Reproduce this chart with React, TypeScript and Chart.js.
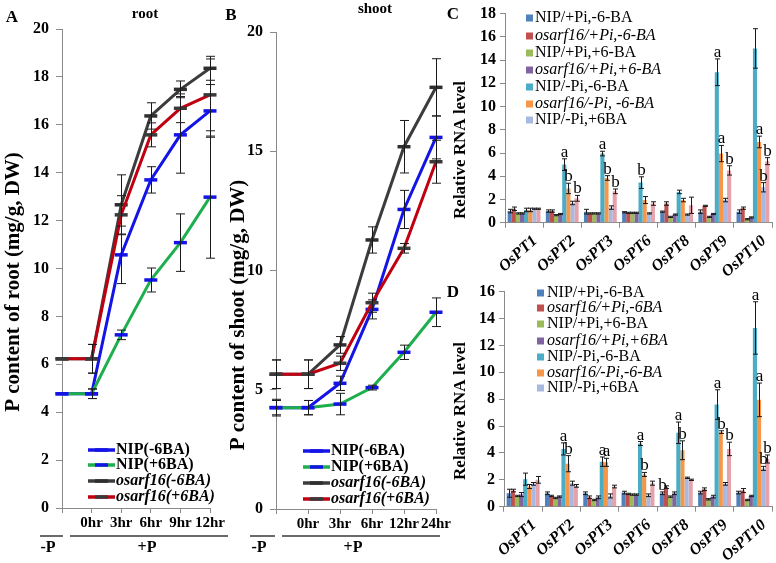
import React, { useEffect, useRef } from "react";
import { Chart, registerables } from "chart.js";

Chart.register(...registerables);

const SERIF = '"Liberation Serif", "Times New Roman", Times, serif';
const W = 776;
const H = 563;
const AXIS = "#8a8a8a";

// ===== Panel A : P content of root =====
const A_TIMES = ["", "0hr", "3hr", "6hr", "9hr", "12hr"];
const A_Y_TICKS = [0, 2, 4, 6, 8, 10, 12, 14, 16, 18, 20];
const A_NIP_M6BA = [4.77, 4.77, 10.57, 13.7, 15.58, 16.58];
const A_NIP_P6BA = [4.77, 4.77, 7.23, 9.52, 11.08, 12.98];
const A_ARF_M6BA = [6.23, 6.23, 12.66, 16.37, 17.48, 18.36];
const A_ARF_P6BA = [6.23, 6.23, 12.24, 15.58, 16.69, 17.25];
const A_NIP_M6BA_ERR = [0, 0.2, 1.2, 0.55, 1.6, 1.1];
const A_NIP_P6BA_ERR = [0, 0.2, 0.2, 0.5, 1.2, 2.55];
const A_ARF_M6BA_ERR = [0, 0.6, 1.25, 0.55, 0.35, 0.5];
const A_ARF_P6BA_ERR = [0, 0.6, 0.8, 0.5, 0.6, 1.5];

// ===== Panel B : P content of shoot =====
const B_TIMES = ["", "0hr", "3hr", "6hr", "12hr", "24hr"];
const B_Y_TICKS = [0, 5, 10, 15, 20];
const B_NIP_M6BA = [4.25, 4.25, 5.27, 8.37, 12.56, 15.58];
const B_NIP_P6BA = [4.25, 4.25, 4.4, 5.09, 6.57, 8.25];
const B_ARF_M6BA = [5.65, 5.65, 6.88, 11.28, 15.19, 17.68];
const B_ARF_P6BA = [5.65, 5.65, 6.11, 8.65, 10.93, 14.56];
const B_NIP_M6BA_ERR = [0.35, 0.3, 0.3, 0.4, 0.8, 0.9];
const B_NIP_P6BA_ERR = [0.3, 0.3, 0.45, 0.1, 0.3, 0.6];
const B_ARF_M6BA_ERR = [0.6, 0.6, 0.35, 0.55, 1.1, 1.2];
const B_ARF_P6BA_ERR = [0.6, 0.6, 0.3, 0.4, 0.2, 0.9];

const LINE_NAMES = ["NIP(-6BA)", "NIP(+6BA)", "osarf16(-6BA)", "osarf16(+6BA)"];
const LINE_ITALIC = [false, false, true, true];
const LINE_COLORS = ["#1414e6", "#1daf4e", "#3c3c3c", "#c00010"];
const MARKER_COLORS = ["#1414e6", "#1414e6", "#2e2e2e", "#3a3a3a"];
const LINE_ORDER = [2, 0, 3, 1];

// ===== Panels C / D : relative RNA level =====
const GENES = ["OsPT1", "OsPT2", "OsPT3", "OsPT6", "OsPT8", "OsPT9", "OsPT10"];
const C_Y_TICKS = [0, 2, 4, 6, 8, 10, 12, 14, 16, 18];
const D_Y_TICKS = [0, 2, 4, 6, 8, 10, 12, 14, 16];
const BAR_COLORS = ["#4f81bd", "#c0504d", "#9bbb59", "#8064a2", "#4bacc6", "#f79646", "#a7b9e0", "#e5a2aa"];

const C_LEGEND = ["NIP/+Pi,-6-BA", "osarf16/+Pi,-6-BA", "NIP/+Pi,+6-BA", "osarf16/+Pi,+6-BA", "NIP/-Pi,-6-BA", "osarf16/-Pi, -6-BA", "NIP/-Pi,+6BA"];
const D_LEGEND = ["NIP/+Pi,-6-BA", "osarf16/+Pi,-6BA", "NIP/+Pi,+6-BA", "osarf16/+Pi,+6BA", "NIP/-Pi,-6-BA", "osarf16/-Pi,-6-BA", "NIP/-Pi,+6BA"];
const LEGEND_ITALIC = [false, true, false, true, false, true, false];

const C_NIP_PPI_M6BA = [1.0, 1.0, 0.95, 0.9, 0.95, 0.95, 0.95];
const C_ARF_PPI_M6BA = [1.2, 1.0, 0.8, 0.85, 1.65, 1.45, 1.25];
const C_NIP_PPI_P6BA = [0.8, 0.65, 0.8, 0.85, 0.5, 0.5, 0.3];
const C_ARF_PPI_P6BA = [0.8, 0.75, 0.8, 0.85, 0.7, 0.75, 0.45];
const C_NIP_MPI_M6BA = [1.1, 5.0, 5.95, 3.45, 2.65, 12.95, 15.0];
const C_ARF_MPI_M6BA = [1.1, 2.95, 3.85, 1.95, 1.95, 5.95, 6.95];
const C_NIP_MPI_P6BA = [1.2, 1.7, 1.3, 0.8, 0.7, 1.95, 3.05];
const C_ARF_MPI_P6BA = [1.2, 2.1, 2.7, 1.65, 1.5, 4.5, 5.3];
const C_NIP_PPI_M6BA_ERR = [0.15, 0.1, 0.2, 0.05, 0.05, 0.15, 0.15];
const C_ARF_PPI_M6BA_ERR = [0.15, 0.1, 0.05, 0.05, 0.15, 0.05, 0.1];
const C_NIP_PPI_P6BA_ERR = [0.05, 0.05, 0.05, 0.05, 0.05, 0.05, 0.05];
const C_ARF_PPI_P6BA_ERR = [0.05, 0.05, 0.05, 0.05, 0.05, 0.05, 0.05];
const C_NIP_MPI_M6BA_ERR = [0.15, 0.5, 0.2, 0.5, 0.15, 1.15, 1.7];
const C_ARF_MPI_M6BA_ERR = [0.15, 0.45, 0.2, 0.3, 0.15, 0.7, 0.5];
const C_NIP_MPI_P6BA_ERR = [0.05, 0.15, 0.15, 0.05, 0.05, 0.15, 0.4];
const C_ARF_MPI_P6BA_ERR = [0.05, 0.25, 0.2, 0.15, 0.7, 0.4, 0.3];
const C_NIP_MPI_M6BA_SIG = ["", "a", "a", "b", "", "a", ""];
const C_ARF_MPI_M6BA_SIG = ["", "b", "b", "", "", "a", "a"];
const C_NIP_MPI_P6BA_SIG = ["", "", "", "", "", "", "b"];
const C_ARF_MPI_P6BA_SIG = ["", "b", "b", "", "", "b", "b"];

const D_NIP_PPI_M6BA = [1.0, 1.0, 1.0, 1.05, 1.0, 1.05, 1.05];
const D_ARF_PPI_M6BA = [1.2, 0.8, 0.7, 0.95, 1.45, 1.3, 1.2];
const D_NIP_PPI_P6BA = [0.8, 0.65, 0.5, 0.9, 0.75, 0.55, 0.5];
const D_ARF_PPI_P6BA = [0.9, 0.75, 0.7, 0.9, 1.0, 0.75, 0.8];
const D_NIP_MPI_M6BA = [2.05, 4.3, 3.35, 4.7, 5.5, 7.6, 13.3];
const D_ARF_MPI_M6BA = [1.5, 3.2, 3.3, 2.4, 4.2, 5.55, 7.95];
const D_NIP_MPI_P6BA = [1.7, 1.75, 0.8, 0.85, 2.15, 1.7, 2.85];
const D_ARF_MPI_P6BA = [2.0, 1.55, 1.5, 1.75, 2.0, 4.3, 3.55];
const D_NIP_PPI_M6BA_ERR = [0.3, 0.1, 0.1, 0.1, 0.1, 0.1, 0.1];
const D_ARF_PPI_M6BA_ERR = [0.1, 0.05, 0.1, 0.05, 0.1, 0.1, 0.15];
const D_NIP_PPI_P6BA_ERR = [0.05, 0.05, 0.05, 0.05, 0.05, 0.05, 0.05];
const D_ARF_PPI_P6BA_ERR = [0.15, 0.05, 0.1, 0.05, 0.1, 0.1, 0.05];
const D_NIP_MPI_M6BA_ERR = [0.45, 0.45, 0.35, 0.15, 0.8, 1.1, 1.95];
const D_ARF_MPI_M6BA_ERR = [0.15, 0.6, 0.3, 0.15, 0.7, 0.1, 1.25];
const D_NIP_MPI_P6BA_ERR = [0.1, 0.15, 0.15, 0.1, 0.05, 0.1, 0.15];
const D_ARF_MPI_P6BA_ERR = [0.25, 0.1, 0.1, 0.15, 0.05, 0.5, 0.3];
const D_NIP_PPI_M6BA_SIG = ["", "", "", "", "b", "", ""];
const D_NIP_MPI_M6BA_SIG = ["", "a", "a", "a", "a", "a", "a"];
const D_ARF_MPI_M6BA_SIG = ["", "b", "a", "b", "b", "b", "a"];
const D_NIP_MPI_P6BA_SIG = ["", "", "", "", "", "", "b"];
const D_ARF_MPI_P6BA_SIG = ["", "", "", "", "", "b", "b"];

// ---------- drawing helpers ----------
function txt(ctx: CanvasRenderingContext2D, s: string, x: number, y: number, font: string, align: CanvasTextAlign = "center") {
  ctx.save();
  ctx.font = font;
  ctx.fillStyle = "#000";
  ctx.textAlign = align;
  ctx.textBaseline = "middle";
  ctx.fillText(s, x, y);
  ctx.restore();
}
function vtxt(ctx: CanvasRenderingContext2D, s: string, x: number, y: number, font: string) {
  ctx.save();
  ctx.translate(x, y);
  ctx.rotate(-Math.PI / 2);
  ctx.font = font;
  ctx.fillStyle = "#000";
  ctx.textAlign = "center";
  ctx.textBaseline = "middle";
  ctx.fillText(s, 0, 0);
  ctx.restore();
}
function seg(ctx: CanvasRenderingContext2D, x1: number, y1: number, x2: number, y2: number, color: string, w: number) {
  ctx.save();
  ctx.strokeStyle = color;
  ctx.lineWidth = w;
  ctx.beginPath();
  ctx.moveTo(x1, y1);
  ctx.lineTo(x2, y2);
  ctx.stroke();
  ctx.restore();
}
function lineLegend(ctx: CanvasRenderingContext2D, x0: number, x1: number, tx: number, ys: number[]) {
  LINE_NAMES.forEach((name, i) => {
    const y = ys[i];
    seg(ctx, x0, y, x1, y, LINE_COLORS[i], 3.5);
    const m = (x0 + x1) / 2;
    seg(ctx, m - 6.5, y, m + 6.5, y, MARKER_COLORS[i], 3.5);
    txt(ctx, name, tx, y, `${LINE_ITALIC[i] ? "italic " : ""}bold 16px ${SERIF}`, "left");
  });
}
function barLegend(ctx: CanvasRenderingContext2D, sx: number, tx: number, ys: number[], names: string[]) {
  names.forEach((name, i) => {
    ctx.save();
    ctx.fillStyle = BAR_COLORS[i];
    ctx.fillRect(sx, ys[i] - 3.5, 7, 7);
    ctx.restore();
    txt(ctx, name, tx, ys[i], `${LEGEND_ITALIC[i] ? "italic " : ""}16px ${SERIF}`, "left");
  });
}

const errBarPlugin = {
  id: "errbars",
  afterDatasetsDraw(chart: any, _args: any, opts: any) {
    const ctx: CanvasRenderingContext2D = chart.ctx;
    const ys = chart.scales.y;
    const cap = opts.cap || 4;
    ctx.save();
    chart.data.datasets.forEach((ds: any, di: number) => {
      const meta = chart.getDatasetMeta(di);
      if (!ds.errors) return;
      meta.data.forEach((el: any, i: number) => {
        const v = ds.data[i];
        const e = ds.errors[i] || 0;
        const x = Math.round(el.x) + 0.5;
        const yTop = ys.getPixelForValue(v + e);
        if (e > 0) {
          const yBot = ys.getPixelForValue(v - e);
          ctx.strokeStyle = "#1a1a1a";
          ctx.lineWidth = 1;
          ctx.beginPath();
          ctx.moveTo(x, yTop);
          ctx.lineTo(x, yBot);
          ctx.moveTo(x - cap, yTop);
          ctx.lineTo(x + cap, yTop);
          ctx.moveTo(x - cap, yBot);
          ctx.lineTo(x + cap, yBot);
          ctx.stroke();
        }
        if (ds.letters && ds.letters[i]) {
          ctx.font = `17px ${SERIF}`;
          ctx.fillStyle = "#000";
          ctx.textAlign = "center";
          ctx.textBaseline = "alphabetic";
          ctx.fillText(ds.letters[i], x, yTop - 2);
        }
      });
    });
    ctx.restore();
  },
};

type Area = { l: number; t: number; r: number; b: number };

function axisStyle() {
  return {
    grid: { drawOnChartArea: false, tickLength: 6, color: AXIS, lineWidth: 1 },
    border: { color: AXIS, width: 1 },
  };
}

function lineConfig(labels: string[], series: number[][], errs: number[][], yTicks: number[], area: Area, annot: (ctx: CanvasRenderingContext2D) => void) {
  const YW = 40;
  const XH = 30;
  return {
    type: "line" as const,
    data: {
      labels,
      datasets: series.map((d, i) => ({
        label: LINE_NAMES[i],
        data: d,
        errors: errs[i],
        borderColor: LINE_COLORS[i],
        backgroundColor: LINE_COLORS[i],
        borderWidth: 3,
        pointStyle: "line",
        pointRadius: 6.5,
        pointBorderWidth: 3.5,
        pointBorderColor: MARKER_COLORS[i],
        pointBackgroundColor: MARKER_COLORS[i],
        tension: 0,
        order: LINE_ORDER[i],
        clip: false,
      })),
    },
    options: {
      responsive: false,
      animation: false,
      events: [],
      layout: { padding: { left: area.l - YW, top: area.t, right: W - area.r, bottom: H - area.b - XH } },
      scales: {
        x: {
          offset: false,
          ...axisStyle(),
          grid: { drawOnChartArea: false, tickLength: 5, color: AXIS, lineWidth: 1 },
          ticks: { autoSkip: false, maxRotation: 0, padding: 1, color: "#000", font: { family: SERIF, size: 15, weight: "bold" } },
          afterFit: (s: any) => { s.height = XH; },
        },
        y: {
          min: yTicks[0],
          max: yTicks[yTicks.length - 1],
          ...axisStyle(),
          afterBuildTicks: (s: any) => { s.ticks = yTicks.map((v) => ({ value: v })); },
          ticks: { padding: 7, color: "#000", font: { family: SERIF, size: 16, weight: "bold" } },
          afterFit: (s: any) => { s.width = YW; },
        },
      },
      plugins: { legend: { display: false }, tooltip: { enabled: false }, errbars: { cap: 4.5 } },
    },
    plugins: [errBarPlugin, { id: "annot", afterDraw: (c: any) => annot(c.ctx) }],
  };
}

function barConfig(vals: number[][], errs: number[][], sigs: (string[] | undefined)[], yTicks: number[], area: Area, XH: number, annot: (ctx: CanvasRenderingContext2D) => void) {
  const YW = 30;
  return {
    type: "bar" as const,
    data: {
      labels: GENES,
      datasets: vals.map((d, i) => ({
        label: "s" + i,
        data: d,
        errors: errs[i],
        letters: sigs[i],
        backgroundColor: BAR_COLORS[i],
        borderWidth: 0,
        categoryPercentage: 0.86,
        barPercentage: 1,
      })),
    },
    options: {
      responsive: false,
      animation: false,
      events: [],
      layout: { padding: { left: area.l - YW, top: area.t, right: W - area.r, bottom: Math.max(0, H - area.b - XH) } },
      scales: {
        x: {
          ...axisStyle(),
          grid: { drawOnChartArea: false, tickLength: 5, color: AXIS, lineWidth: 1, offset: true },
          ticks: {
            autoSkip: false,
            minRotation: 42,
            maxRotation: 42,
            labelOffset: 11,
            padding: 4,
            color: "#000",
            font: { family: SERIF, size: 16, weight: "bold", style: "italic" },
          },
          afterFit: (s: any) => { s.height = XH; },
        },
        y: {
          min: yTicks[0],
          max: yTicks[yTicks.length - 1],
          ...axisStyle(),
          grid: { drawOnChartArea: false, tickLength: 5, color: AXIS, lineWidth: 1 },
          afterBuildTicks: (s: any) => { s.ticks = yTicks.map((v) => ({ value: v })); },
          ticks: { padding: 4, color: "#000", font: { family: SERIF, size: 16, weight: "bold" } },
          afterFit: (s: any) => { s.width = YW; },
        },
      },
      plugins: { legend: { display: false }, tooltip: { enabled: false }, errbars: { cap: 2.5 } },
    },
    plugins: [errBarPlugin, { id: "annot", afterDraw: (c: any) => annot(c.ctx) }],
  };
}

function annotA(ctx: CanvasRenderingContext2D) {
  txt(ctx, "A", 12, 18, `bold 17px ${SERIF}`);
  txt(ctx, "root", 145, 14, `bold 15px ${SERIF}`);
  vtxt(ctx, "P content of root (mg/g, DW)", 14, 282, `bold 21px ${SERIF}`);
  seg(ctx, 40, 536, 63, 536, "#6a6a6a", 2);
  seg(ctx, 70, 536, 228, 536, "#6a6a6a", 2);
  txt(ctx, "-P", 48, 548, `bold 16px ${SERIF}`);
  txt(ctx, "+P", 147, 548, `bold 16px ${SERIF}`);
  lineLegend(ctx, 88, 115, 116, [450, 465, 481, 497]);
}
function annotB(ctx: CanvasRenderingContext2D) {
  txt(ctx, "B", 231, 16, `bold 17px ${SERIF}`);
  txt(ctx, "shoot", 375, 9, `bold 15px ${SERIF}`);
  vtxt(ctx, "P content of shoot (mg/g, DW)", 239, 315, `bold 21px ${SERIF}`);
  seg(ctx, 250, 536, 275, 536, "#6a6a6a", 2);
  seg(ctx, 282, 536, 440, 536, "#6a6a6a", 2);
  txt(ctx, "-P", 259, 548, `bold 16px ${SERIF}`);
  txt(ctx, "+P", 353, 548, `bold 16px ${SERIF}`);
  lineLegend(ctx, 303, 330, 331, [451, 467, 483, 499]);
}
function annotC(ctx: CanvasRenderingContext2D) {
  txt(ctx, "C", 453, 15, `bold 17px ${SERIF}`);
  vtxt(ctx, "Relative RNA level", 461, 150, `bold 17px ${SERIF}`);
  barLegend(ctx, 526, 535, [18, 36, 53, 70, 87, 104, 120], C_LEGEND);
}
function annotD(ctx: CanvasRenderingContext2D) {
  txt(ctx, "D", 453, 293, `bold 17px ${SERIF}`);
  vtxt(ctx, "Relative RNA level", 461, 411, `bold 17px ${SERIF}`);
  barLegend(ctx, 537, 547, [293, 308, 324, 341, 357, 373, 388], D_LEGEND);
}

export default function App() {
  const r1 = useRef<HTMLCanvasElement>(null);
  const r2 = useRef<HTMLCanvasElement>(null);
  const r3 = useRef<HTMLCanvasElement>(null);
  const r4 = useRef<HTMLCanvasElement>(null);

  useEffect(() => {
    const charts: Chart[] = [];
    charts.push(
      new Chart(
        r1.current!,
        lineConfig(
          A_TIMES,
          [A_NIP_M6BA, A_NIP_P6BA, A_ARF_M6BA, A_ARF_P6BA],
          [A_NIP_M6BA_ERR, A_NIP_P6BA_ERR, A_ARF_M6BA_ERR, A_ARF_P6BA_ERR],
          A_Y_TICKS,
          { l: 62, t: 29, r: 210, b: 508 },
          annotA
        ) as any
      )
    );
    charts.push(
      new Chart(
        r2.current!,
        lineConfig(
          B_TIMES,
          [B_NIP_M6BA, B_NIP_P6BA, B_ARF_M6BA, B_ARF_P6BA],
          [B_NIP_M6BA_ERR, B_NIP_P6BA_ERR, B_ARF_M6BA_ERR, B_ARF_P6BA_ERR],
          B_Y_TICKS,
          { l: 276, t: 32, r: 436, b: 509 },
          annotB
        ) as any
      )
    );
    charts.push(
      new Chart(
        r3.current!,
        barConfig(
          [C_NIP_PPI_M6BA, C_ARF_PPI_M6BA, C_NIP_PPI_P6BA, C_ARF_PPI_P6BA, C_NIP_MPI_M6BA, C_ARF_MPI_M6BA, C_NIP_MPI_P6BA, C_ARF_MPI_P6BA],
          [C_NIP_PPI_M6BA_ERR, C_ARF_PPI_M6BA_ERR, C_NIP_PPI_P6BA_ERR, C_ARF_PPI_P6BA_ERR, C_NIP_MPI_M6BA_ERR, C_ARF_MPI_M6BA_ERR, C_NIP_MPI_P6BA_ERR, C_ARF_MPI_P6BA_ERR],
          [undefined, undefined, undefined, undefined, C_NIP_MPI_M6BA_SIG, C_ARF_MPI_M6BA_SIG, C_NIP_MPI_P6BA_SIG, C_ARF_MPI_P6BA_SIG],
          C_Y_TICKS,
          { l: 505, t: 12.3, r: 772, b: 222.7 },
          62,
          annotC
        ) as any
      )
    );
    charts.push(
      new Chart(
        r4.current!,
        barConfig(
          [D_NIP_PPI_M6BA, D_ARF_PPI_M6BA, D_NIP_PPI_P6BA, D_ARF_PPI_P6BA, D_NIP_MPI_M6BA, D_ARF_MPI_M6BA, D_NIP_MPI_P6BA, D_ARF_MPI_P6BA],
          [D_NIP_PPI_M6BA_ERR, D_ARF_PPI_M6BA_ERR, D_NIP_PPI_P6BA_ERR, D_ARF_PPI_P6BA_ERR, D_NIP_MPI_M6BA_ERR, D_ARF_MPI_M6BA_ERR, D_NIP_MPI_P6BA_ERR, D_ARF_MPI_P6BA_ERR],
          [D_NIP_PPI_M6BA_SIG, undefined, undefined, undefined, D_NIP_MPI_M6BA_SIG, D_ARF_MPI_M6BA_SIG, D_NIP_MPI_P6BA_SIG, D_ARF_MPI_P6BA_SIG],
          D_Y_TICKS,
          { l: 504, t: 291.7, r: 772, b: 506.7 },
          56.3,
          annotD
        ) as any
      )
    );
    return () => charts.forEach((c) => c.destroy());
  }, []);

  const cs: React.CSSProperties = { position: "absolute", left: 0, top: 0, width: W, height: H };
  return (
    <div style={{ position: "absolute", left: 0, top: 0, width: W, height: H, background: "#fff", overflow: "hidden" }}>
      <canvas ref={r1} width={W} height={H} style={cs} />
      <canvas ref={r2} width={W} height={H} style={cs} />
      <canvas ref={r3} width={W} height={H} style={cs} />
      <canvas ref={r4} width={W} height={H} style={cs} />
    </div>
  );
}
